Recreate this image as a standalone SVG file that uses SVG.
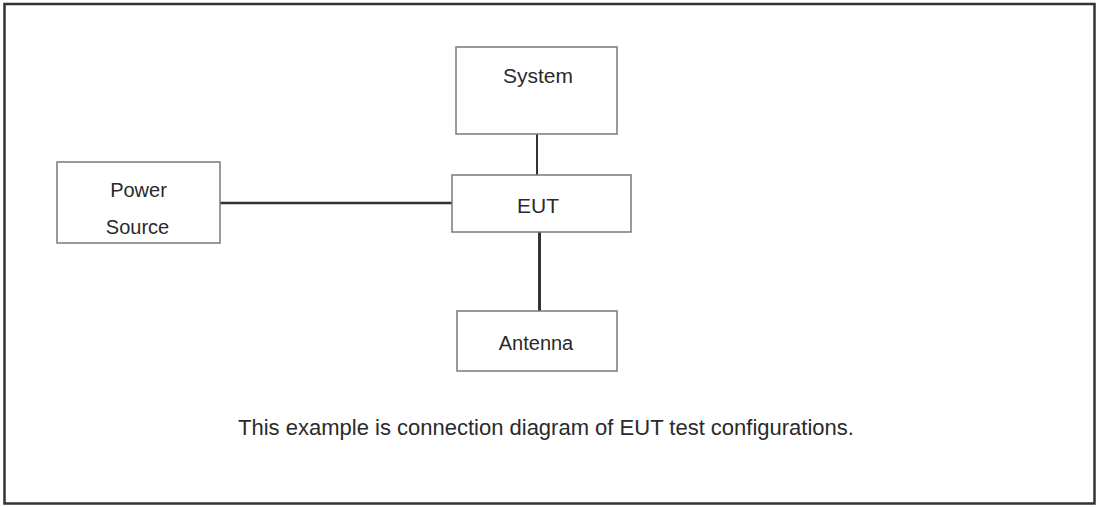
<svg xmlns="http://www.w3.org/2000/svg" width="1099" height="507" viewBox="0 0 1099 507">
<style>
.box{fill:#fff;stroke:#7a7a7a;stroke-width:1.5}
.t{font-family:"Liberation Sans",Arial,sans-serif;fill:#2a2a2a;text-anchor:middle}
.c{stroke:#333;fill:none}
</style>
<rect x="0" y="0" width="1099" height="507" fill="#fff"/>
<rect x="4.5" y="4" width="1090" height="499.5" fill="#fff" stroke="#333" stroke-width="2.5"/>
<g id="connectors">
<line class="c" x1="537" y1="134" x2="537" y2="175" stroke-width="2"/>
<line class="c" x1="220" y1="203" x2="452" y2="203" stroke-width="2.5"/>
<line class="c" x1="539.5" y1="232" x2="539.5" y2="311" stroke-width="3"/>
</g>
<g id="system">
<rect class="box" x="456" y="47" width="161" height="87"/>
<text class="t" x="538" y="83" font-size="21">System</text>
</g>
<g id="eut">
<rect class="box" x="452" y="175" width="179" height="57"/>
<text class="t" x="538" y="213" font-size="21">EUT</text>
</g>
<g id="power">
<rect class="box" x="57" y="162" width="163" height="81"/>
<text class="t" x="138.5" y="197" font-size="20">Power</text>
<text class="t" x="137.5" y="234" font-size="20">Source</text>
</g>
<g id="antenna">
<rect class="box" x="457" y="311" width="160" height="60"/>
<text class="t" x="536" y="350" font-size="20">Antenna</text>
</g>
<text class="t" x="546" y="435" font-size="22">This example is connection diagram of EUT test configurations.</text>
</svg>
